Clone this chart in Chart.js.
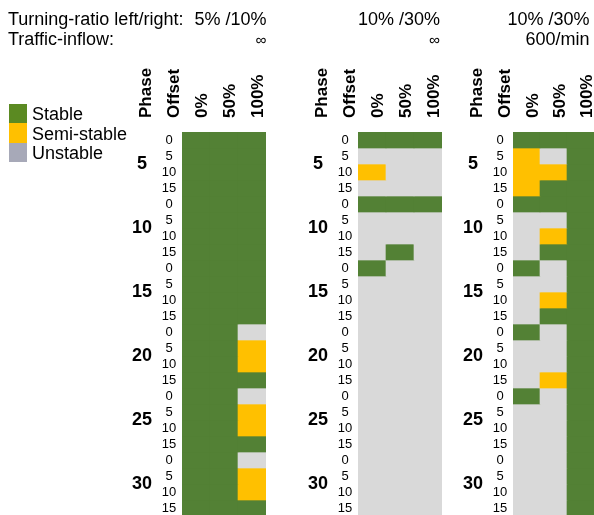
<!DOCTYPE html>
<html>
<head>
<meta charset="utf-8">
<script src="https://cdn.jsdelivr.net/npm/chart.js@4.4.0/dist/chart.umd.min.js"></script>
<style>
  html, body { margin: 0; padding: 0; background: #fff; overflow: hidden; }
  #wrap { position: relative; width: 594px; height: 515px; overflow: hidden; }
  #wrap canvas { position: absolute; left: 0; top: 0; }
</style>
</head>
<body>
<div id="wrap">
  <canvas id="panel0" width="594" height="516"></canvas>
  <canvas id="panel1" width="594" height="516"></canvas>
  <canvas id="panel2" width="594" height="516"></canvas>
</div>
<script>
const columnLabels = ['0%', '50%', '100%'];
const phaseLabels = ['5', '10', '15', '20', '25', '30'];
const offsetLabels = ['0', '5', '10', '15'];
const turningRatio = ['5% /10%', '10% /30%', '10% /30%'];
const trafficInflow = ['\u221E', '\u221E', '600/min'];
const legendLabels = ['Stable', 'Semi-stable', 'Unstable'];

// S = stable, M = semi-stable, U = unstable
// one string per phase/offset row, one letter per column (0%, 50%, 100%)
const panelA = [
  'SSS', 'SSS', 'SSS', 'SSS',
  'SSS', 'SSS', 'SSS', 'SSS',
  'SSS', 'SSS', 'SSS', 'SSS',
  'SSU', 'SSM', 'SSM', 'SSS',
  'SSU', 'SSM', 'SSM', 'SSS',
  'SSU', 'SSM', 'SSM', 'SSS'
];
const panelB = [
  'SSS', 'UUU', 'MUU', 'UUU',
  'SSS', 'UUU', 'UUU', 'USU',
  'SUU', 'UUU', 'UUU', 'UUU',
  'UUU', 'UUU', 'UUU', 'UUU',
  'UUU', 'UUU', 'UUU', 'UUU',
  'UUU', 'UUU', 'UUU', 'UUU'
];
const panelC = [
  'SSS', 'MUS', 'MMS', 'MSS',
  'SSS', 'UUS', 'UMS', 'USS',
  'SUS', 'UUS', 'UMS', 'USS',
  'SUS', 'UUS', 'UUS', 'UMS',
  'SUS', 'UUS', 'UUS', 'UUS',
  'UUS', 'UUS', 'UUS', 'UUS'
];

const cellColors = { S: '#538135', M: '#FFC000', U: '#D9D9D9' };
const legendColors = ['#5B8A22', '#FFC000', '#A7A9B8'];
const FONT = "'Liberation Sans', Arial, sans-serif";

// where each panel's cells sit on the page
const panels = [
  { rows: panelA, left: 182, right: 266, headRight: 266.5 },
  { rows: panelB, left: 358, right: 442, headRight: 440 },
  { rows: panelC, left: 513, right: 594, headRight: 589.5 }
];

function drawHeader(ctx) {
  ctx.fillStyle = '#000';
  ctx.font = '18px ' + FONT;
  ctx.textAlign = 'left';
  ctx.textBaseline = 'alphabetic';
  ctx.fillText('Turning-ratio left/right:', 8, 25);
  ctx.fillText('Traffic-inflow:', 8, 45);

  // legend
  legendLabels.forEach((lab, i) => {
    const y0 = [104, 123, 143][i];
    const y1 = [123, 143, 162][i];
    ctx.fillStyle = legendColors[i];
    ctx.fillRect(9, y0, 18, y1 - y0);
    ctx.fillStyle = '#000';
    ctx.fillText(lab, 32, [120, 139.5, 159][i]);
  });
}

const labelsPlugin = {
  id: 'panelLabels',
  afterDraw(chart, args, opts) {
    const ctx = chart.ctx;
    const xs = chart.scales.x;
    const ys = chart.scales.y;
    const left = chart.chartArea.left;
    ctx.save();
    if (opts.index === 0) drawHeader(ctx);

    ctx.fillStyle = '#000';
    ctx.font = '18px ' + FONT;
    ctx.textAlign = 'right';
    ctx.fillText(turningRatio[opts.index], opts.headRight, 25);
    const inflow = trafficInflow[opts.index];
    // the infinity sign is set smaller in the original
    ctx.font = (inflow === '\u221E' ? '15.5px ' : '18px ') + FONT;
    ctx.fillText(inflow, opts.headRight, 45);

    // rotated column headers
    ctx.font = 'bold 17px ' + FONT;
    const rotated = [['Phase', left - 31], ['Offset', left - 3]];
    columnLabels.forEach((c, i) => rotated.push([c, xs.getPixelForValue(i) + 11]));
    rotated.forEach(([text, x]) => {
      ctx.save();
      ctx.translate(x, 118);
      ctx.rotate(-Math.PI / 2);
      ctx.textAlign = 'left';
      ctx.textBaseline = 'alphabetic';
      ctx.fillText(text, 0, 0);
      ctx.restore();
    });

    // offsets and phases
    ctx.textAlign = 'center';
    ctx.textBaseline = 'middle';
    phaseLabels.forEach((p, pi) => {
      ctx.font = '13px ' + FONT;
      offsetLabels.forEach((o, oi) => {
        const r = pi * offsetLabels.length + oi;
        ctx.fillText(o, left - 13, ys.getPixelForValue(r + 0.5) + 0.5);
      });
      ctx.font = 'bold 18px ' + FONT;
      ctx.fillText(p, left - 40, ys.getPixelForValue(pi * 4 + 2) + 0.5);
    });
    ctx.restore();
  }
};

panels.forEach((p, idx) => {
  const datasets = p.rows.map((row, r) => ({
    label: 'row' + r,
    data: columnLabels.map(() => 1),
    backgroundColor: row.split('').map(s => cellColors[s]),
    borderWidth: 0,
    categoryPercentage: 1,
    barPercentage: 1,
    stack: 'cells'
  }));

  new Chart(document.getElementById('panel' + idx), {
    type: 'bar',
    data: { labels: columnLabels, datasets: datasets },
    plugins: [labelsPlugin],
    options: {
      responsive: false,
      animation: false,
      devicePixelRatio: 1,
      events: [],
      layout: { padding: { left: p.left, right: 594 - p.right, top: 132, bottom: 0 } },
      scales: {
        x: { stacked: true, display: false },
        y: { stacked: true, display: false, reverse: true, min: 0, max: 24 }
      },
      plugins: {
        legend: { display: false },
        tooltip: { enabled: false },
        panelLabels: { index: idx, headRight: p.headRight }
      }
    }
  });
});
</script>
</body>
</html>
